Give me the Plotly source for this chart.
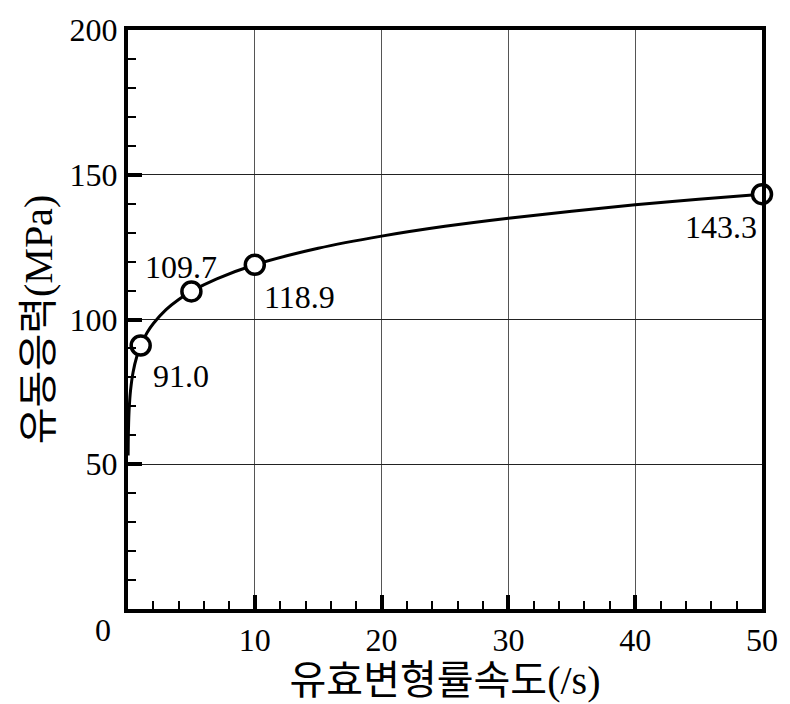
import plotly.graph_objects as go

# measured data points
rate_pts = [1, 5, 10, 50]
stress_pts = [91.0, 109.7, 118.9, 143.3]
point_labels = ["91.0", "109.7", "118.9", "143.3"]

# fitted curve, values
curve_x = [0.01, 0.02, 0.05, 0.1, 0.2, 0.4, 0.7, 1, 1.5, 2, 3, 4, 5, 7, 10,
           15, 20, 25, 30, 35, 40, 45, 50]
curve_y = [53.0, 58.0, 64.3, 69.7, 75.5, 81.8, 87.3, 91.0, 95.4, 98.6, 103.4,
           106.9, 109.7, 114.0, 118.9, 124.6, 128.8, 132.2, 135.0, 137.4,
           139.6, 141.5, 143.3]

x_ticks = [10, 20, 30, 40, 50]
y_ticks = [50, 100, 150, 200]

FONT = "Liberation Serif, Noto Sans CJK KR"

fig = go.Figure()
fig.add_trace(go.Scatter(x=curve_x, y=curve_y, mode="lines",
                         line=dict(color="black", width=3, shape="spline"),
                         hoverinfo="skip", showlegend=False))
fig.add_trace(go.Scatter(x=rate_pts, y=stress_pts, mode="markers",
                         marker=dict(symbol="circle", size=19, color="white",
                                     line=dict(color="black", width=3.5)),
                         showlegend=False, cliponaxis=False))

# data labels (pixel offsets right / down from each point)
offsets = [(40, 30), (-10, -24), (45, 32), (-41, 33)]
for x, y, t, (ax, ay) in zip(rate_pts, stress_pts, point_labels, offsets):
    fig.add_annotation(x=x, y=y, text=t, showarrow=False, xshift=ax, yshift=-ay,
                       xanchor="center", yanchor="middle",
                       font=dict(family=FONT, size=32, color="black"))

# the corner "0"
fig.add_annotation(xref="paper", yref="paper", x=-0.039, y=-0.036, text="0",
                   xanchor="center", yanchor="middle", showarrow=False,
                   font=dict(family=FONT, size=32, color="black"))

fig.update_xaxes(range=[0, 50], tickvals=x_ticks, ticktext=[str(v) for v in x_ticks],
                 ticks="inside", ticklen=14, tickwidth=3.5, tickcolor="black",
                 minor=dict(ticks="inside", dtick=2, tick0=0, ticklen=8, tickwidth=1.5,
                            tickcolor="black", showgrid=False),
                 showgrid=True, gridcolor="#555", gridwidth=1,
                 showline=True, linecolor="black", linewidth=4, mirror=True,
                 zeroline=False,
                 tickfont=dict(family=FONT, size=32, color="black"),
                 title=dict(text="유효변형률속도(/s)", standoff=6,
                            font=dict(family=FONT, size=40, color="black")))
fig.update_yaxes(range=[0, 200], tickvals=y_ticks, ticktext=[str(v) for v in y_ticks],
                 ticks="inside", ticklen=14, tickwidth=3.5, tickcolor="black",
                 minor=dict(ticks="inside", dtick=10, tick0=0, ticklen=8, tickwidth=1.5,
                            tickcolor="black", showgrid=False),
                 showgrid=True, gridcolor="#222", gridwidth=1,
                 showline=True, linecolor="black", linewidth=4, mirror=True,
                 zeroline=False,
                 tickfont=dict(family=FONT, size=32, color="black"),
                 title=dict(text="유동응력(MPa)", standoff=6,
                            font=dict(family=FONT, size=40, color="black")))

fig.update_layout(width=790, height=704,
                  margin=dict(l=128, r=24, t=29, b=93),
                  plot_bgcolor="white", paper_bgcolor="white",
                  font=dict(family=FONT, color="black"))

fig.write_html("out.html", config={"displayModeBar": False},
               post_script="document.body.style.margin='0';")
